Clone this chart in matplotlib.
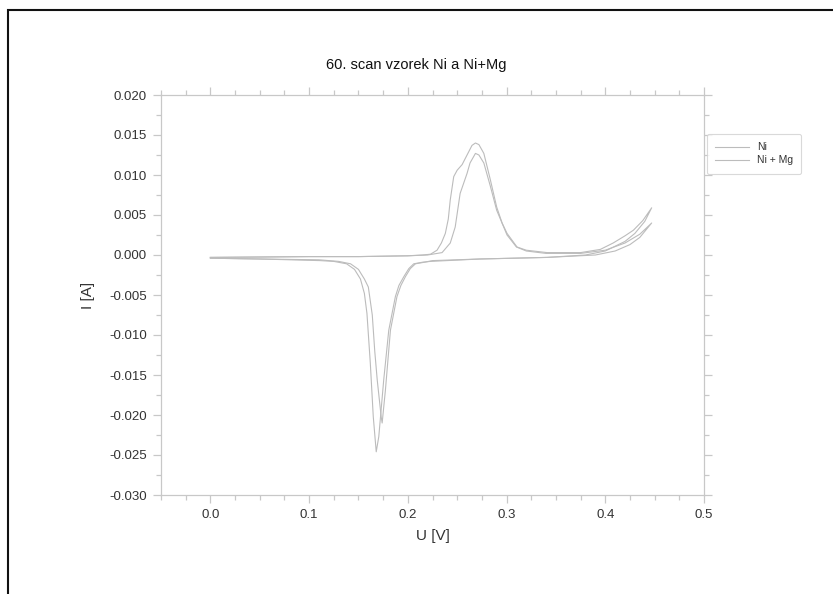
import matplotlib
matplotlib.use("Agg")
import matplotlib.pyplot as plt
from matplotlib.ticker import MultipleLocator, FormatStrFormatter
from matplotlib.patches import Rectangle

plt.rcParams['font.family'] = ['Liberation Sans', 'DejaVu Sans']

# Ni: forward scan then reverse scan (U in V, I in A)
ni_u = [0.000, 0.050, 0.100, 0.150, 0.200, 0.215, 0.223, 0.2296, 0.234, 0.238,
        0.241, 0.243, 0.2465, 0.250, 0.255, 0.260, 0.265, 0.2685, 0.272, 0.277,
        0.2836, 0.290, 0.2955, 0.3005, 0.3106, 0.320, 0.341, 0.375, 0.395, 0.408,
        0.420, 0.4285, 0.438, 0.447,
        0.440, 0.430, 0.420, 0.400, 0.380, 0.341, 0.273, 0.223, 0.215, 0.206,
        0.201, 0.196, 0.191, 0.1874, 0.1807, 0.1756, 0.1706, 0.168, 0.165, 0.162,
        0.1586, 0.156, 0.152, 0.146, 0.138, 0.125, 0.111, 0.050, 0.000]
ni_i = [-0.0003, -0.00025, -0.0002, -0.0002, -0.0001, 0.0000, 0.0001, 0.0006, 0.0015, 0.0027,
        0.0045, 0.0069, 0.0098, 0.0106, 0.0113, 0.0125, 0.0137, 0.0140, 0.0138, 0.0127,
        0.0094, 0.0060, 0.0040, 0.0027, 0.0010, 0.0006, 0.0003, 0.0003, 0.0007, 0.0015,
        0.0024, 0.0031, 0.0043, 0.0059,
        0.0042, 0.0027, 0.0017, 0.0005, 0.0000, -0.0003, -0.0005, -0.0008, -0.0009, -0.0011,
        -0.0017, -0.0027, -0.0038, -0.0052, -0.0094, -0.0156, -0.0227, -0.0246, -0.0202, -0.0135,
        -0.0073, -0.0048, -0.0030, -0.0018, -0.0011, -0.0008, -0.0007, -0.0005, -0.0004]

# Ni + Mg
nimg_u = [0.000, 0.050, 0.100, 0.150, 0.200, 0.220, 0.2347, 0.243, 0.248, 0.253,
          0.260, 0.263, 0.2685, 0.272, 0.277, 0.2836, 0.290, 0.3005, 0.310, 0.320,
          0.340, 0.375, 0.400, 0.420, 0.435, 0.447,
          0.435, 0.425, 0.410, 0.390, 0.341, 0.273, 0.225, 0.217, 0.2077, 0.2025,
          0.1976, 0.193, 0.189, 0.1824, 0.1773, 0.174, 0.173, 0.169, 0.1665, 0.164,
          0.160, 0.156, 0.150, 0.142, 0.130, 0.110, 0.050, 0.000]
nimg_i = [-0.0003, -0.00025, -0.0002, -0.0002, -0.0001, 0.0000, 0.0003, 0.0015, 0.0035, 0.0077,
          0.0102, 0.0115, 0.0127, 0.0125, 0.0115, 0.0086, 0.0056, 0.0025, 0.0010, 0.0005,
          0.0002, 0.0002, 0.0006, 0.0015, 0.0026, 0.0040,
          0.0022, 0.0013, 0.0005, 0.0000, -0.0003, -0.0005, -0.0007, -0.0009, -0.0011, -0.0017,
          -0.0027, -0.0038, -0.0052, -0.0094, -0.0169, -0.0210, -0.0202, -0.0156, -0.0120, -0.0075,
          -0.0040, -0.0030, -0.0018, -0.0011, -0.0008, -0.0006, -0.0005, -0.0004]

line_col = '#bcbcbc'
spine_col = '#c8c8c8'
text_col = '#333333'

fig = plt.figure(figsize=(8.33, 5.94), dpi=100)
ax = fig.add_axes([161/833, 1 - 495/594, (704 - 161)/833, (495 - 95)/594])

ax.plot(ni_u, ni_i, color=line_col, lw=0.8, label='Ni')
ax.plot(nimg_u, nimg_i, color=line_col, lw=0.8, label='Ni + Mg')

ax.set_xlim(-0.05, 0.5)
ax.set_ylim(-0.030, 0.020)
ax.xaxis.set_major_locator(MultipleLocator(0.1))
ax.xaxis.set_minor_locator(MultipleLocator(0.025))
ax.yaxis.set_major_locator(MultipleLocator(0.005))
ax.yaxis.set_minor_locator(MultipleLocator(0.0025))
ax.xaxis.set_major_formatter(FormatStrFormatter('%.1f'))
ax.yaxis.set_major_formatter(FormatStrFormatter('%.3f'))

for s in ax.spines.values():
    s.set_color(spine_col)
    s.set_linewidth(0.9)
ax.tick_params(which='both', direction='out', color=spine_col, top=True, right=True,
               labelcolor=text_col, labelsize=9.5)
ax.tick_params(which='major', length=6, width=0.9, pad=4)
ax.tick_params(which='minor', length=3.5, width=0.9)

ax.set_xlabel('U [V]', fontsize=11, color=text_col, labelpad=6)
ax.set_ylabel('I [A]', fontsize=11, color=text_col, labelpad=10)
fig.text(0.5, 1 - 65/594, '60. scan vzorek Ni a Ni+Mg', ha='center', va='center',
         fontsize=10.5, color='#111111')

leg = fig.legend(loc='upper left', bbox_to_anchor=(707/833, 1 - 134/594),
                 fontsize=7.5, handlelength=3.2, frameon=True, borderaxespad=0,
                 labelspacing=0.3, borderpad=0.8)
leg.get_frame().set_edgecolor('#d0d0d0')
leg.get_frame().set_linewidth(0.8)
for t in leg.get_texts():
    t.set_color(text_col)

# outer frame (top and left edges visible)
fig.patches.append(Rectangle((8/833, -0.05), 1.1, 1 - 10/594 + 0.05, transform=fig.transFigure,
                             fill=False, edgecolor='#111111', lw=1.5))

fig.savefig('out.png', dpi=100)
